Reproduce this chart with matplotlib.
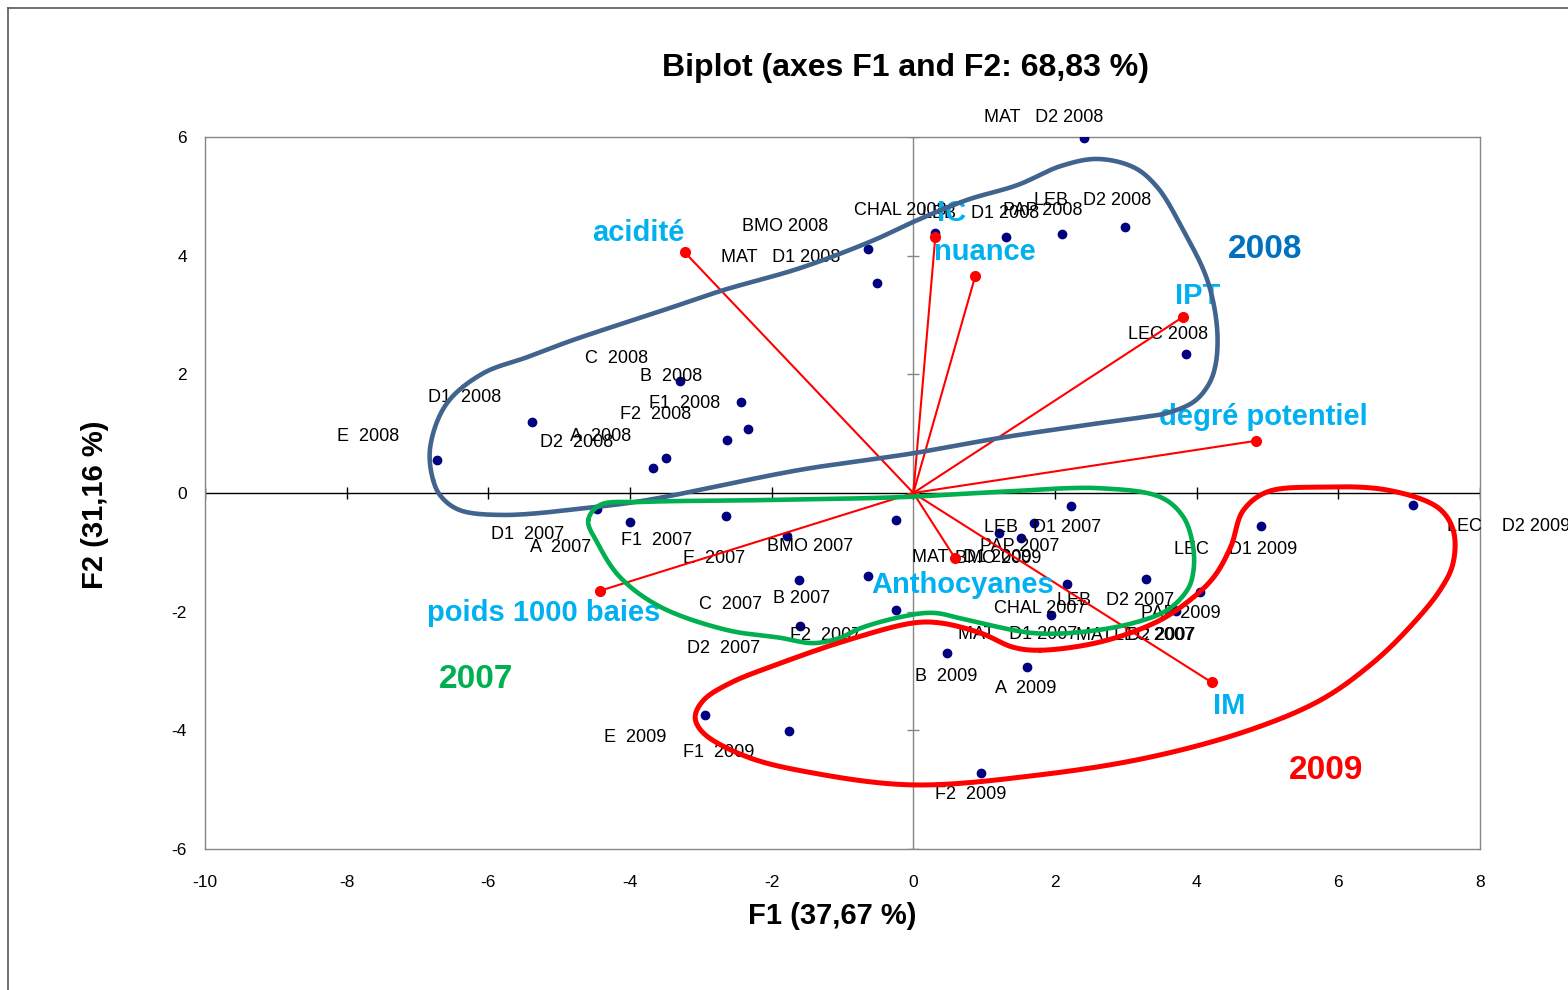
import numpy as np
import matplotlib
matplotlib.use("Agg")
import matplotlib.pyplot as plt
from matplotlib.lines import Line2D

plt.rcParams['font.family'] = ['Liberation Sans', 'DejaVu Sans']
plt.rcParams['axes.unicode_minus'] = False

# -----------------------------
# 1. DATA (PCA scores)
# -----------------------------
labels_2008 = ["MAT   D2 2008", "LEB   D2 2008", "PAP 2008", "LEB   D1 2008", "CHAL 2008",
               "BMO 2008", "MAT   D1 2008", "LEC 2008", "C  2008", "B  2008", "F1  2008",
               "F2  2008", "A  2008", "D2  2008", "D1  2008", "E  2008"]
x_2008 = [2.41, 2.99, 2.10, 1.31, 0.31, -0.64, -0.51, 3.85, -3.29, -2.43, -2.33,
          -2.63, -3.49, -3.68, -5.38, -6.72]
y_2008 = [5.98, 4.48, 4.37, 4.31, 4.38, 4.11, 3.54, 2.34, 1.89, 1.53, 1.08,
          0.89, 0.59, 0.42, 1.20, 0.56]

labels_2007 = ["D1  2007", "A  2007", "F1  2007", "E  2007", "BMO 2007", "C  2007", "B 2007",
               "F2  2007", "D2  2007", "LEB   D1 2007", "PAP 2007", "LEB   D2 2007",
               "CHAL 2007", "MAT   D1 2007", "MAT   D2 2007", "LEC 2007"]
x_2007 = [-4.46, -4.00, -2.65, -1.79, -0.25, -1.62, -0.64, -0.25, -1.60, 2.22, 1.71, 3.28,
          2.17, 1.95, 4.04, 3.66]
y_2007 = [-0.27, -0.49, -0.39, -0.72, -0.46, -1.47, -1.40, -1.97, -2.24, -0.22, -0.51, -1.45,
          -1.53, -2.06, -1.67, -1.96]

labels_2009 = ["LEC    D2 2009", "LEC    D1 2009", "PAP 2009", "MAT   D1 2009", "BMO 2009",
               "B  2009", "A  2009", "F2  2009", "E  2009", "F1  2009"]
x_2009 = [7.06, 4.91, 3.71, 1.21, 1.52, 0.48, 1.60, 0.95, -2.94, -1.76]
y_2009 = [-0.20, -0.56, -1.99, -0.67, -0.76, -2.70, -2.93, -4.72, -3.74, -4.01]

# variables (loadings, scaled)
var_names = ["acidité", "IC", "nuance", "IPT", "degré potentiel",
             "poids 1000 baies", "Anthocyanes", "IM"]
var_x = [-3.23, 0.31, 0.875, 3.81, 4.84, -4.43, 0.59, 4.21]
var_y = [4.06, 4.31, 3.66, 2.97, 0.88, -1.65, -1.10, -3.19]

# label offsets (pixels, x right / y up)
off_2008 = [(-40, 21), (-32, 27), (-19, 23), (-26, 24), (-35, 23), (-83, 23), (-97, 25),
            (-18, 20), (-64, 22), (-70, 26), (-64, 25), (-71, 26), (-66, 21), (-76, 26),
            (-68, 24), (-69, 23)]
off_2007 = [(-70, -25), (-69, -25), (-69, -24), (-72, -23), (-86, -26), (-68, -24), (-66, -22),
            (-70, -26), (-76, -23), (-28, -21), (-15, -23), (-30, -21), (-27, -25), (-34, -19),
            (-64, -43), (-19, -26)]
off_2009 = [(95, -22), (-26, -23), (5, -2), (-27, -25), (-23, -20), (-1, -23), (-1, -22),
            (-10, -21), (-70, -23), (-70, -22)]
off_var = [(-46, 19), (16, 24), (10, 24), (14, 21), (7, 24), (-56, -22), (8, -27), (18, -24)]

# hand drawn group outlines (data coords)
outline_2008 = [(-6.78, 0.22), (-6.82, 0.78), (-6.58, 1.52), (-6.07, 2.02), (-5.45, 2.29),
                (-4.80, 2.58), (-3.53, 3.08), (-2.68, 3.42), (-1.60, 3.79), (-0.56, 4.26),
                (0.00, 4.57), (0.76, 4.94), (1.47, 5.19), (2.08, 5.51), (2.60, 5.63),
                (3.11, 5.49), (3.44, 5.16), (3.81, 4.43), (4.15, 3.59), (4.29, 2.75),
                (4.26, 2.12), (4.15, 1.79), (3.95, 1.53), (3.59, 1.35), (3.25, 1.28),
                (2.64, 1.18), (1.23, 0.93), (0.00, 0.67), (-1.60, 0.39), (-3.76, -0.12),
                (-4.52, -0.24), (-5.79, -0.37), (-6.40, -0.29), (-6.66, -0.07)]
outline_2007 = [(-4.59, -0.46), (-4.42, -0.20), (-3.81, -0.15), (-2.16, -0.12), (-0.18, -0.07),
                (1.23, 0.02), (2.64, 0.08), (3.49, -0.07), (3.81, -0.40), (3.95, -0.91),
                (3.95, -1.35), (3.87, -1.63), (3.59, -1.97), (3.11, -2.19), (2.40, -2.34),
                (1.69, -2.36), (0.76, -2.14), (0.28, -2.02), (-0.18, -2.09), (-0.75, -2.28),
                (-1.03, -2.44), (-1.41, -2.53), (-1.88, -2.44), (-2.63, -2.31), (-3.57, -1.92),
                (-4.14, -1.42), (-4.46, -0.84)]
outline_2009 = [(1.79, -2.65), (2.64, -2.51), (3.44, -2.17), (3.91, -1.80), (4.24, -1.42),
                (4.48, -0.91), (4.66, -0.29), (5.00, 0.02), (5.75, 0.10), (6.69, 0.05),
                (7.40, -0.24), (7.62, -0.62), (7.62, -1.18), (7.44, -1.63), (6.97, -2.31),
                (6.45, -2.90), (5.75, -3.49), (4.76, -3.99), (3.35, -4.45), (1.79, -4.75),
                (0.00, -4.92), (-1.41, -4.72), (-2.34, -4.45), (-2.96, -4.05), (-3.08, -3.78),
                (-2.96, -3.49), (-2.58, -3.20), (-1.88, -2.87), (-0.93, -2.48), (0.00, -2.19),
                (0.38, -2.19), (0.95, -2.36), (1.41, -2.60)]

year_names = ["2008", "2007", "2009"]
year_pos = [(4.97, 4.10), (-6.18, -3.15), (5.83, -4.67)]
year_colors = ["#0070C0", "#00B050", "#FF0000"]

x_ticks = [-10, -8, -6, -4, -2, 0, 2, 4, 6, 8]
y_ticks = [-6, -4, -2, 0, 2, 4, 6]


def smooth_closed(pts, n=24):
    # centripetal catmull-rom through the outline vertices
    P = np.array(pts, dtype=float)
    P = np.vstack([P[-1], P, P[0], P[1]])
    out = []
    for i in range(1, len(P) - 2):
        p0, p1, p2, p3 = P[i - 1], P[i], P[i + 1], P[i + 2]
        t0 = 0.0
        t1 = t0 + np.linalg.norm(p1 - p0) ** 0.5
        t2 = t1 + np.linalg.norm(p2 - p1) ** 0.5
        t3 = t2 + np.linalg.norm(p3 - p2) ** 0.5
        t = np.linspace(t1, t2, n, endpoint=False)[:, None]
        A1 = (t1 - t) / (t1 - t0) * p0 + (t - t0) / (t1 - t0) * p1
        A2 = (t2 - t) / (t2 - t1) * p1 + (t - t1) / (t2 - t1) * p2
        A3 = (t3 - t) / (t3 - t2) * p2 + (t - t2) / (t3 - t2) * p3
        B1 = (t2 - t) / (t2 - t0) * A1 + (t - t0) / (t2 - t0) * A2
        B2 = (t3 - t) / (t3 - t1) * A2 + (t - t1) / (t3 - t1) * A3
        out.append((t2 - t) / (t2 - t1) * B1 + (t - t1) / (t2 - t1) * B2)
    out = np.vstack(out)
    return np.vstack([out, out[:1]])


# -----------------------------
# 2. FIGURE
# -----------------------------
fig = plt.figure(figsize=(15.68, 9.9), dpi=100)
ax = fig.add_axes([205 / 1568, 1 - 849 / 990, 1275 / 1568, 712 / 990])
ax.set_xlim(-10, 8)
ax.set_ylim(-6, 6)

for s in ax.spines.values():
    s.set_color("#868686")
    s.set_linewidth(1.0)

ax.set_xticks(x_ticks)
ax.set_yticks(y_ticks)
ax.tick_params(axis="x", length=0, pad=19, labelsize=12.5)
ax.tick_params(axis="y", length=0, pad=13, labelsize=12.5)

# axes through the origin with crossing ticks
ax.axhline(0, color="black", lw=1.0, zorder=1)
ax.axvline(0, color="#868686", lw=1.0, zorder=1)
ax.plot(x_ticks, np.zeros(len(x_ticks)), ls="none", marker="|", ms=8, mew=1.0,
        color="black", zorder=1)
ax.plot(np.zeros(len(y_ticks)), y_ticks, ls="none", marker="_", ms=8, mew=1.0,
        color="#868686", zorder=1)

# observations
for xs, ys, labs, offs in [(x_2008, y_2008, labels_2008, off_2008),
                           (x_2007, y_2007, labels_2007, off_2007),
                           (x_2009, y_2009, labels_2009, off_2009)]:
    ax.plot(xs, ys, ls="none", marker="o", ms=6, color="#000080", zorder=3)
    for xv, yv, lab, (dx, dy) in zip(xs, ys, labs, offs):
        ax.annotate(lab, (xv, yv), xytext=(dx, dy), textcoords="offset pixels",
                    ha="center", va="center", fontsize=13, color="black",
                    annotation_clip=False, zorder=4)

# variable vectors
for name, vx, vy, (dx, dy) in zip(var_names, var_x, var_y, off_var):
    ax.plot([0, vx], [0, vy], color="#FF0000", lw=1.5, zorder=5)
    ax.plot(vx, vy, marker="o", ms=7, color="#FF0000", zorder=5)
    ax.annotate(name, (vx, vy), xytext=(dx, dy), textcoords="offset pixels",
                ha="center", va="center", fontsize=21, fontweight="bold",
                color="#00B0F0", zorder=6)

# group outlines
for pts, col, lw in [(outline_2008, "#41648F", 3.3), (outline_2007, "#00B050", 3.3),
                     (outline_2009, "#FF0000", 3.6)]:
    c = smooth_closed(pts)
    ax.plot(c[:, 0], c[:, 1], color=col, lw=lw, solid_capstyle="round", zorder=7)

for name, (px, py), col in zip(year_names, year_pos, year_colors):
    ax.text(px, py, name, ha="center", va="center", fontsize=24, fontweight="bold",
            color=col, zorder=8)

fig.text(905 / 1568, 1 - 68 / 990, "Biplot (axes F1 and F2: 68,83 %)", ha="center",
         va="center", fontsize=23, fontweight="bold")
fig.text(832 / 1568, 1 - 916 / 990, "F1 (37,67 %)", ha="center", va="center",
         fontsize=21, fontweight="bold")
fig.text(95 / 1568, 1 - 505 / 990, "F2 (31,16 %)", ha="center", va="center",
         fontsize=21, fontweight="bold", rotation=90)

# chart area border (left and top visible)
fig.add_artist(Line2D([8 / 1568, 8 / 1568], [0, 1 - 8 / 990], transform=fig.transFigure,
                      color="#595959", lw=1.2))
fig.add_artist(Line2D([8 / 1568, 1], [1 - 8 / 990, 1 - 8 / 990], transform=fig.transFigure,
                      color="#595959", lw=1.2))

fig.savefig("out.png", dpi=100)
